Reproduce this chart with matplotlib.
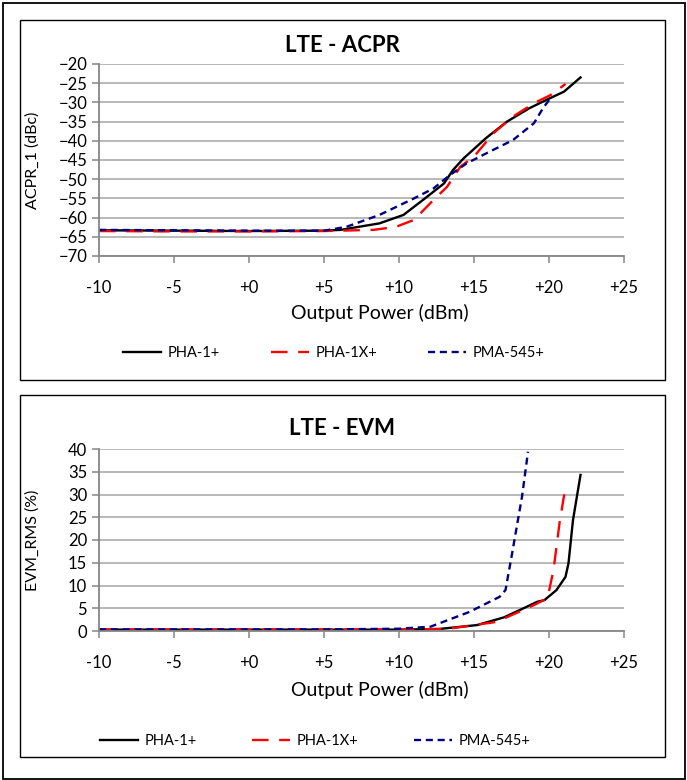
import matplotlib
matplotlib.use("Agg")
import matplotlib.pyplot as plt
from matplotlib.patches import Rectangle

plt.rcParams['font.family'] = ['Lato', 'DejaVu Sans']

series_names = ["PHA-1+", "PHA-1X+", "PMA-545+"]

# ACPR data (dBc) vs output power (dBm)
acpr_pha1_x = [-10, -5, 0, 5, 6.1, 8.7, 10.3, 11.6, 13.0, 13.6, 14.3, 15.8, 17.2, 18.7, 19.8, 21.0, 22.1]
acpr_pha1_y = [-63.3, -63.4, -63.5, -63.4, -63.2, -61.5, -59.3, -55.4, -51.1, -47.6, -44.6, -39.3, -35.0, -31.5, -29.4, -27.2, -23.5]
acpr_pha1x_x = [-10, -5, 0, 5, 8.3, 9.8, 11.0, 12.3, 13.2, 14.1, 15.0, 16.3, 17.6, 19.0, 20.1, 21.1]
acpr_pha1x_y = [-63.5, -63.6, -63.6, -63.5, -63.2, -62.4, -60.6, -55.4, -52.0, -46.7, -44.1, -38.0, -33.7, -30.2, -28.1, -25.2]
acpr_pma545_x = [-10, -5, 0, 5, 6.5, 8.7, 11.0, 12.3, 13.4, 14.5, 15.8, 17.6, 19.0, 19.6, 20.1]
acpr_pma545_y = [-63.2, -63.3, -63.4, -63.4, -62.4, -59.3, -55.0, -52.4, -48.9, -45.9, -43.3, -39.8, -35.4, -31.5, -28.9]

# EVM data (%) vs output power (dBm)
evm_pha1_x = [-10, -5, 0, 5, 10, 12.7, 15.2, 17.0, 18.5, 19.2, 19.7, 20.5, 21.1, 21.3, 21.6, 22.1]
evm_pha1_y = [0.3, 0.3, 0.3, 0.3, 0.3, 0.45, 1.3, 3.0, 5.3, 6.4, 6.8, 9.0, 11.9, 14.9, 24.4, 34.3]
evm_pha1x_x = [-10, -5, 0, 5, 10, 13.2, 16.5, 19.0, 19.9, 20.3, 20.7, 21.1]
evm_pha1x_y = [0.3, 0.3, 0.3, 0.3, 0.3, 0.45, 2.0, 5.7, 7.2, 13.4, 23.7, 31.7]
evm_pma545_x = [-10, -5, 0, 5, 10, 12.1, 14.7, 16.7, 17.1, 17.5, 18.2, 18.6]
evm_pma545_y = [0.35, 0.35, 0.35, 0.35, 0.5, 0.95, 4.2, 7.5, 9.0, 16.3, 29.5, 39.4]

x_ticks = [-10, -5, 0, 5, 10, 15, 20, 25]
x_ticklabels = ["-10", "-5", "+0", "+5", "+10", "+15", "+20", "+25"]
acpr_ticks = [-20, -25, -30, -35, -40, -45, -50, -55, -60, -65, -70]
evm_ticks = [0, 5, 10, 15, 20, 25, 30, 35, 40]

W, H = 687, 780
fig = plt.figure(figsize=(W / 100, H / 100), dpi=100)

def fx(px):
    return px / W

def fy(py):
    return 1 - py / H

# Outer and panel boxes
fig.patches.append(Rectangle((fx(3), fy(779)), fx(682), 776 / H, transform=fig.transFigure,
                             fill=False, edgecolor='black', lw=1.3))
fig.patches.append(Rectangle((fx(20), fy(380)), fx(645), 360 / H, transform=fig.transFigure,
                             fill=False, edgecolor='black', lw=1.0))
fig.patches.append(Rectangle((fx(20), fy(757)), fx(645), 362 / H, transform=fig.transFigure,
                             fill=False, edgecolor='black', lw=1.0))

styles = [
    dict(color='black', lw=1.7, linestyle='-'),
    dict(color='#ff0000', lw=1.7, linestyle=(0, (7, 4.5))),
    dict(color='#000080', lw=1.7, linestyle=(0, (3, 2))),
]

def style_axes(ax, yticks, ylim, ylabel):
    ax.set_xlim(-10, 25)
    ax.set_ylim(*ylim)
    ax.set_xticks(x_ticks)
    ax.set_xticklabels(x_ticklabels)
    ax.set_yticks(yticks)
    ax.grid(axis='y', color='#a6a6a6', lw=1.1)
    ax.set_axisbelow(True)
    for s in ['top', 'right']:
        ax.spines[s].set_visible(False)
    for s in ['left', 'bottom']:
        ax.spines[s].set_color('#868686')
        ax.spines[s].set_linewidth(1.3)
    ax.tick_params(axis='both', colors='#868686', labelcolor='black', labelsize=12,
                   length=5, width=1.1, direction='out')
    ax.tick_params(axis='x', pad=12)
    ax.set_xlabel("Output Power (dBm)", fontsize=14)
    ax.xaxis.set_label_coords(0.535, -0.235 * 192 / ax.get_position().height / H)
    ax.set_ylabel(ylabel, fontsize=11.5)
    ax.yaxis.set_label_coords(-0.113, 0.5)

leg_kw = dict(loc='center', ncol=3, frameon=False, fontsize=10.5, handlelength=2.6,
              handletextpad=0.45, columnspacing=3.5)

# Top: ACPR
ax1 = fig.add_axes([fx(99), fy(256), 525 / W, 192 / H])
ax1.plot(acpr_pha1_x, acpr_pha1_y, label=series_names[0], **styles[0])
ax1.plot(acpr_pha1x_x, acpr_pha1x_y, label=series_names[1], **styles[1])
ax1.plot(acpr_pma545_x, acpr_pma545_y, label=series_names[2], **styles[2])
style_axes(ax1, acpr_ticks, (-70, -20), "ACPR_1 (dBc)")
ax1.xaxis.set_label_coords(0.535, -(313 - 256) / 192)
ax1.xaxis.label.set_va('center')
fig.text(fx(342), fy(45), "LTE - ACPR", fontsize=16, fontweight='bold', ha='center', va='center')
fig.legend(*ax1.get_legend_handles_labels(), bbox_to_anchor=(fx(334), fy(353)), **leg_kw)

# Bottom: EVM
ax2 = fig.add_axes([fx(99), fy(631), 525 / W, 182 / H])
ax2.plot(evm_pha1_x, evm_pha1_y, label=series_names[0], **styles[0])
ax2.plot(evm_pha1x_x, evm_pha1x_y, label=series_names[1], **styles[1])
ax2.plot(evm_pma545_x, evm_pma545_y, label=series_names[2], **styles[2])
style_axes(ax2, evm_ticks, (0, 40), "EVM_RMS (%)")
ax2.xaxis.set_label_coords(0.535, -(690 - 631) / 182)
ax2.xaxis.label.set_va('center')
fig.text(fx(342), fy(428), "LTE - EVM", fontsize=16, fontweight='bold', ha='center', va='center')
leg_kw2 = dict(leg_kw, columnspacing=3.8)
fig.legend(*ax2.get_legend_handles_labels(), bbox_to_anchor=(fx(315), fy(741)), **leg_kw2)

fig.savefig("out.png", dpi=100)
